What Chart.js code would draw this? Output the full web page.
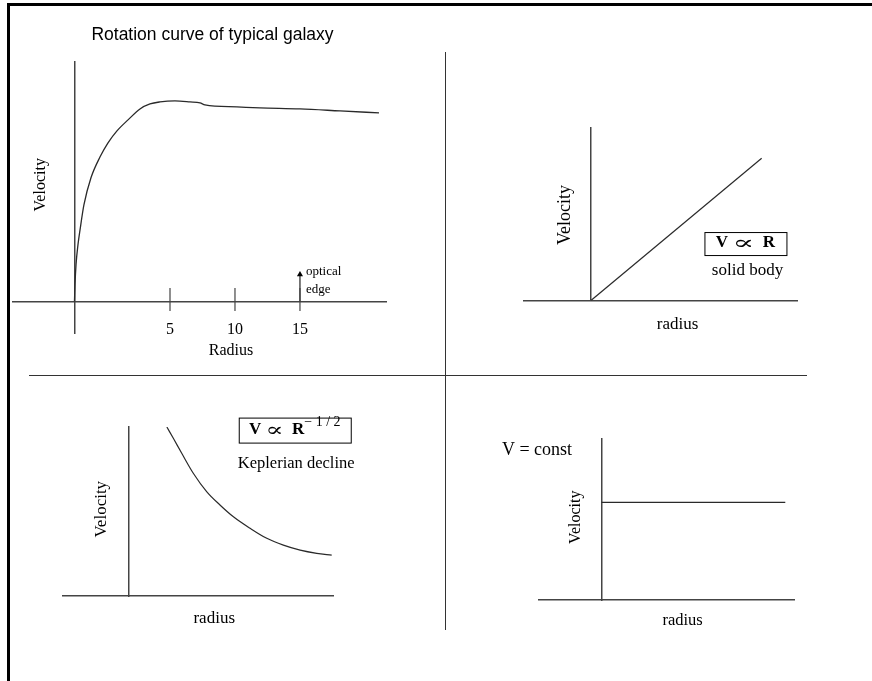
<!DOCTYPE html>
<html>
<head>
<meta charset="utf-8">
<script src="https://cdn.jsdelivr.net/npm/chart.js@4.4.1/dist/chart.umd.min.js"></script>
<style>
  html, body { margin: 0; padding: 0; background: #fff; width: 872px; height: 681px; overflow: hidden; }
  #frame { position: absolute; left: 7px; top: 3px; width: 865px; height: 678px; border-top: 3px solid #000; border-left: 3px solid #000; box-sizing: border-box; }
  .rule { position: absolute; background: #333; }
  canvas { position: absolute; left: 0; top: 0; }
</style>
</head>
<body>
<div id="frame"></div>
<div class="rule" style="left:445px; top:52px; width:1px; height:578px;"></div>
<div class="rule" style="left:29px; top:375px; width:778px; height:1px;"></div>
<canvas id="galaxy-chart" width="872" height="681"></canvas>
<canvas id="solid-chart" width="872" height="681"></canvas>
<canvas id="kepler-chart" width="872" height="681"></canvas>
<canvas id="flat-chart" width="872" height="681"></canvas>
<script>
// typical galaxy (radius in tick units, velocity arbitrary)
const galaxyRadius = [-2.35, -2.31, -2.23, -2.08, -1.92, -1.62, -1.08, -0.38, 0.23, 0.92, 1.77, 2.69, 3.46, 4.23, 5.38, 6.54, 7.31, 7.69, 10.15, 11.92, 15, 18.08, 21.08];
const galaxyVelocity = [0, 17, 37, 57, 72, 97, 124, 145, 159, 171, 182, 193, 198, 200, 201, 200, 199, 197, 195, 194, 193, 191, 189];
const radiusTicks = [5, 10, 15];
const opticalEdge = 15;

// solid body: V ~ R
const solidRadius = [0, 10];
const solidVelocity = [0, 10];

// keplerian decline: V ~ R^-1/2
const keplerRadius = [1.9, 2.23, 2.65, 3.23, 3.9, 4.57, 5.23, 6.07, 6.9, 7.73, 8.57, 9.4, 10.15];
const keplerVelocity = [8.47, 7.89, 7.14, 6.14, 5.22, 4.55, 3.97, 3.39, 2.89, 2.55, 2.3, 2.14, 2.05];

// flat: V = const
const flatRadius = [0, 9.18];
const flatVelocity = [4.87, 4.87];

const serif = '"Liberation Serif", "Times New Roman", serif';
const sans = '"Liberation Sans", Arial, sans-serif';
const axisColor = '#444';
const lineColor = '#2a2a2a';

function points(xs, ys) {
    return xs.map((x, i) => ({x: x, y: ys[i]}));
}

// text drawn at data coordinates of the chart
function notes(items) {
    return {
        id: 'notes',
        afterDraw(chart) {
            const ctx = chart.ctx;
            const sx = chart.scales.x, sy = chart.scales.y;
            items.forEach(item => {
                const parts = item.parts || [{text: item.text, font: item.font}];
                ctx.save();
                ctx.translate(sx.getPixelForValue(item.x), sy.getPixelForValue(item.y));
                if (item.rotate) ctx.rotate(item.rotate * Math.PI / 180);
                ctx.fillStyle = '#000';
                ctx.textBaseline = 'middle';
                ctx.textAlign = 'left';
                let w = 0;
                parts.forEach(p => { ctx.font = p.font; w += ctx.measureText(p.text).width * (p.stretch || 1); });
                let pos = item.align === 'left' ? 0 : -w / 2;
                parts.forEach(p => {
                    const k = p.stretch || 1;
                    ctx.font = p.font;
                    ctx.save();
                    ctx.translate(pos, p.dy || 0);
                    ctx.scale(k, 1);
                    ctx.fillText(p.text, 0, 0);
                    ctx.restore();
                    pos += ctx.measureText(p.text).width * k;
                });
                if (item.box) {
                    ctx.strokeStyle = '#000';
                    ctx.lineWidth = 1;
                    const bw = item.box[0], bh = item.box[1];
                    ctx.strokeRect(Math.round(-bw / 2) + 0.5, Math.round(-bh / 2) + 0.5, bw, bh);
                }
                ctx.restore();
            });
        }
    };
}

function axis(min, max, at) {
    return {
        type: 'linear', min: min, max: max, position: at,
        grid: {display: false, drawTicks: false},
        ticks: {display: false},
        border: {color: axisColor, width: 1.5}
    };
}

function baseOptions(padding, xAxis, yAxis) {
    return {
        responsive: false,
        animation: false,
        events: [],
        layout: {padding: padding},
        plugins: {legend: {display: false}, tooltip: {enabled: false}},
        scales: {x: xAxis, y: yAxis}
    };
}

// top left: rotation curve of a typical galaxy
const galaxyX = axis(-7.08, 21.62, {y: 0});
galaxyX.ticks = {display: true, color: '#000', padding: 19, autoSkip: false, maxRotation: 0, font: {family: serif, size: 16}};
galaxyX.afterBuildTicks = scale => { scale.ticks = radiusTicks.map(v => ({value: v})); };

new Chart(document.getElementById('galaxy-chart'), {
    type: 'scatter',
    data: {
        datasets: [
            {
                data: points(galaxyRadius, galaxyVelocity),
                showLine: true,
                cubicInterpolationMode: 'monotone',
                borderColor: lineColor,
                borderWidth: 1.3,
                pointRadius: 0
            },
            {
                // tick marks crossing the radius axis
                data: radiusTicks.map(r => ({x: r, y: 2})),
                pointStyle: 'line',
                rotation: 90,
                pointRadius: 11.5,
                borderColor: axisColor,
                borderWidth: 1.2
            },
            {
                // arrow marking the optical edge
                data: [{x: opticalEdge, y: 0}, {x: opticalEdge, y: 27}],
                showLine: true,
                borderColor: '#222',
                borderWidth: 1.2,
                pointStyle: 'triangle',
                pointRadius: [0, 3.5],
                backgroundColor: '#000',
                pointBorderWidth: 0
            }
        ]
    },
    options: baseOptions({left: 13, top: 62, right: 486, bottom: 347.5}, galaxyX, axis(-32, 240, {x: -2.35})),
    plugins: [notes([
        {text: 'Rotation curve of typical galaxy', x: 8.27, y: 266.6, font: '17.5px ' + sans},
        {text: 'Velocity', x: -4.92, y: 117, rotate: -90, font: '16px ' + serif},
        {text: 'Radius', x: 9.69, y: -49.4, font: '16px ' + serif},
        {text: 'optical', x: 15.46, y: 29.6, align: 'left', font: '13px ' + serif},
        {text: 'edge', x: 15.46, y: 11.6, align: 'left', font: '13px ' + serif}
    ])]
});

// top right: solid body
new Chart(document.getElementById('solid-chart'), {
    type: 'scatter',
    data: {
        datasets: [{
            data: points(solidRadius, solidVelocity),
            showLine: true,
            borderColor: lineColor,
            borderWidth: 1.2,
            pointRadius: 0
        }]
    },
    options: baseOptions({left: 524, top: 128, right: 75, bottom: 380.5}, axis(-3.92, 12.07, {y: 0}), axis(0, 12.13, {x: 0})),
    plugins: [notes([
        {text: 'Velocity', x: -1.53, y: 6.01, rotate: -90, font: '18px ' + serif},
        {text: 'radius', x: 5.07, y: -1.72, font: '17px ' + serif},
        {parts: [
            {text: 'V ', font: 'bold 17px ' + serif},
            {text: '∝', font: '19px "DejaVu Serif"', dy: 1, stretch: 1.7},
            {text: '  R', font: 'bold 17px ' + serif}
        ], x: 9.05, y: 4.04, box: [82, 23]},
        {text: 'solid body', x: 9.17, y: 2.14, font: '17px ' + serif}
    ])]
});

// bottom left: keplerian decline
new Chart(document.getElementById('kepler-chart'), {
    type: 'scatter',
    data: {
        datasets: [{
            data: points(keplerRadius, keplerVelocity),
            showLine: true,
            cubicInterpolationMode: 'monotone',
            borderColor: lineColor,
            borderWidth: 1.2,
            pointRadius: 0
        }]
    },
    options: baseOptions({left: 63, top: 427, right: 538.7, bottom: 85}, axis(-3.3, 10.23, {y: 0}), axis(0, 8.47, {x: 0})),
    plugins: [notes([
        {text: 'Velocity', x: -1.35, y: 4.35, rotate: -90, font: '17px ' + serif},
        {text: 'radius', x: 4.27, y: -1.15, font: '17px ' + serif},
        {parts: [
            {text: 'V ', font: 'bold 17px ' + serif},
            {text: '∝', font: '19px "DejaVu Serif"', dy: 1, stretch: 1.4},
            {text: '  R', font: 'bold 17px ' + serif},
            {text: '− 1 / 2', font: '14px ' + serif, dy: -7}
        ], x: 8.3, y: 8.34, box: [112, 25]},
        {text: 'Keplerian decline', x: 8.37, y: 6.65, font: '16.5px ' + serif}
    ])]
});

// bottom right: V = const
new Chart(document.getElementById('flat-chart'), {
    type: 'scatter',
    data: {
        datasets: [{
            data: points(flatRadius, flatVelocity),
            showLine: true,
            borderColor: lineColor,
            borderWidth: 1.2,
            pointRadius: 0
        }]
    },
    options: baseOptions({left: 539, top: 439, right: 77.7, bottom: 81}, axis(-3.12, 9.63, {y: 0}), axis(0, 8.035, {x: 0})),
    plugins: [notes([
        {text: 'Velocity', x: -1.29, y: 4.13, rotate: -90, font: '16px ' + serif},
        {text: 'radius', x: 4.05, y: -1.05, font: '16.5px ' + serif},
        {text: 'V = const', x: -3.22, y: 7.45, font: '18px ' + serif}
    ])]
});
</script>
</body>
</html>
